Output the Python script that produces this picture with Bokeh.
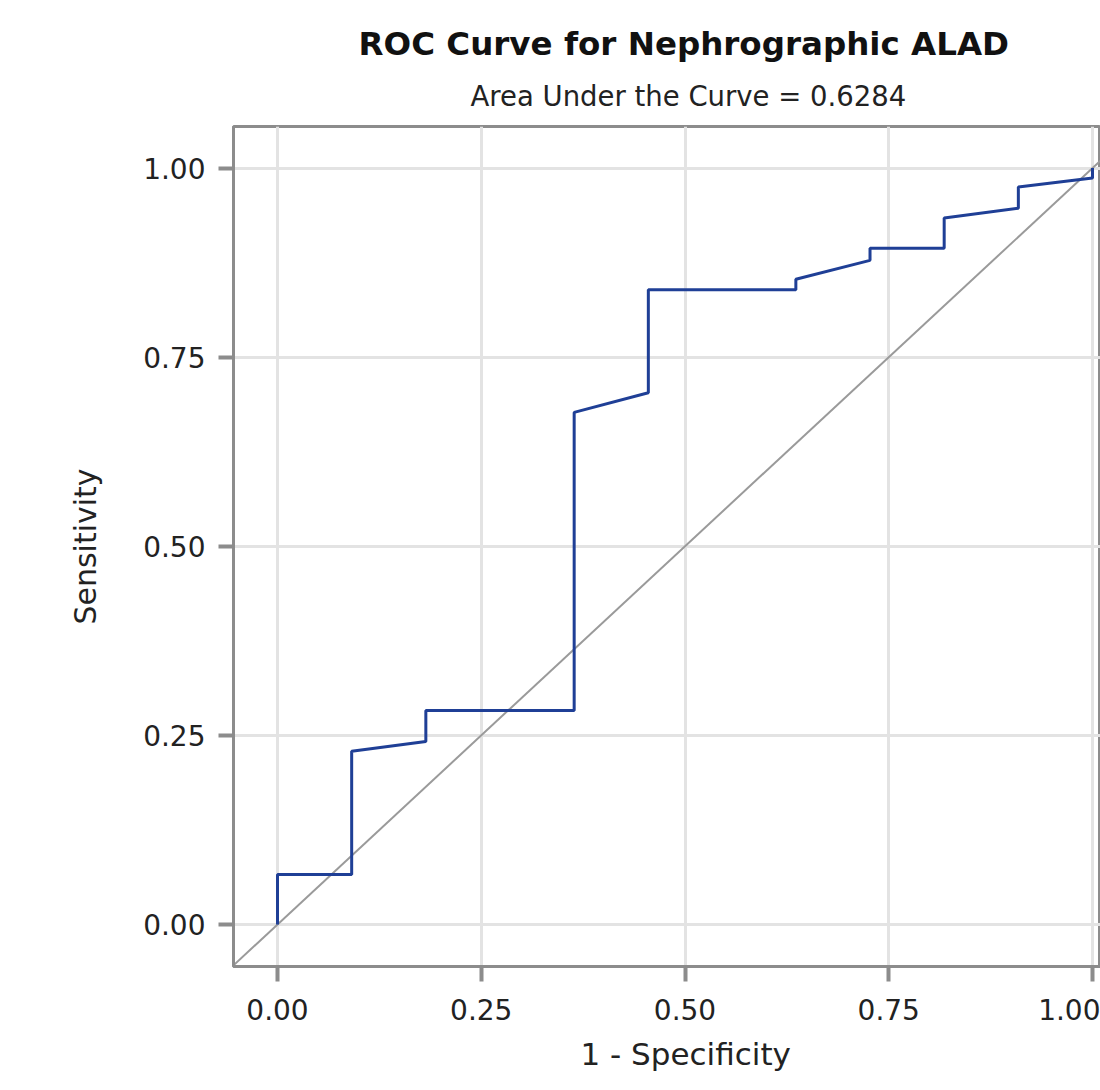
from bokeh.plotting import figure
from bokeh.models import Title, FixedTicker
from bokeh.embed import file_html
from bokeh.resources import INLINE

# ROC curve points (1 - specificity, sensitivity)
fpr = [0.0, 0.0, 0.091, 0.091, 0.182, 0.182, 0.364, 0.364, 0.455, 0.455,
       0.636, 0.636, 0.727, 0.727, 0.818, 0.818, 0.909, 0.909, 1.0, 1.0]
tpr = [0.0, 0.066, 0.066, 0.229, 0.242, 0.283, 0.283, 0.677, 0.703, 0.839,
       0.839, 0.853, 0.878, 0.894, 0.894, 0.934, 0.947, 0.975, 0.987, 1.0]
diag = [-0.06, 1.06]
ticks = [0.0, 0.25, 0.5, 0.75, 1.0]
tick_labels = {0.0: "0.00", 0.25: "0.25", 0.5: "0.50", 0.75: "0.75", 1.0: "1.00"}
title_text = "ROC Curve for Nephrographic ALAD"
subtitle_text = "Area Under the Curve = 0.6284"
x_label = "1 - Specificity"
y_label = "Sensitivity"

FONT = "DejaVu Sans"
AX = "#8c8c8c"

p = figure(frame_width=867, frame_height=840,
           x_range=(-0.054, 1.0098), y_range=(-0.0556, 1.055),
           output_backend="svg", toolbar_location=None, title=None,
           min_border_left=233, min_border_right=0,
           min_border_top=126, min_border_bottom=120,
           background_fill_color="white", border_fill_color="white")

p.outline_line_color = AX
p.outline_line_width = 3

# grid
for g in (p.xgrid, p.ygrid):
    g.ticker = FixedTicker(ticks=ticks)
    g.grid_line_color = "#e3e3e3"
    g.grid_line_width = 3

for ax in (p.xaxis[0], p.yaxis[0]):
    ax.ticker = FixedTicker(ticks=ticks)
    ax.major_label_overrides = tick_labels
    ax.axis_line_color = AX
    ax.axis_line_width = 3
    ax.major_tick_line_color = AX
    ax.major_tick_line_width = 4
    ax.major_tick_out = 15
    ax.major_tick_in = 0
    ax.minor_tick_line_color = None
    ax.major_label_text_font = FONT
    ax.major_label_text_font_size = "28px"
    ax.major_label_text_color = "#222222"

p.xaxis[0].major_label_standoff = 17
p.yaxis[0].major_label_standoff = 13

p.yaxis[0].axis_label = y_label
p.yaxis[0].axis_label_text_font = FONT
p.yaxis[0].axis_label_text_font_size = "30px"
p.yaxis[0].axis_label_text_font_style = "normal"
p.yaxis[0].axis_label_text_color = "#222222"
p.yaxis[0].axis_label_standoff = 37

# x-axis label as a bottom title so it centres on the full (clipped) frame
p.add_layout(Title(text=x_label, align="left", offset=347,
                   text_font=FONT, text_font_size="31px",
                   text_font_style="normal", text_color="#222222",
                   standoff=23), "below")

p.add_layout(Title(text=subtitle_text, align="left", offset=237,
                   text_font=FONT, text_font_size="27.5px",
                   text_font_style="normal", text_color="#222222",
                   standoff=30), "above")
p.add_layout(Title(text=title_text, align="left", offset=125,
                   text_font=FONT, text_font_size="32.5px",
                   text_font_style="bold", text_color="#111111",
                   standoff=0), "above")

p.line(diag, diag, line_color="#9a9a9a", line_width=2)
p.line(fpr, tpr, line_color="#1f3f96", line_width=3)

open("out.html", "w").write(file_html(p, INLINE))
